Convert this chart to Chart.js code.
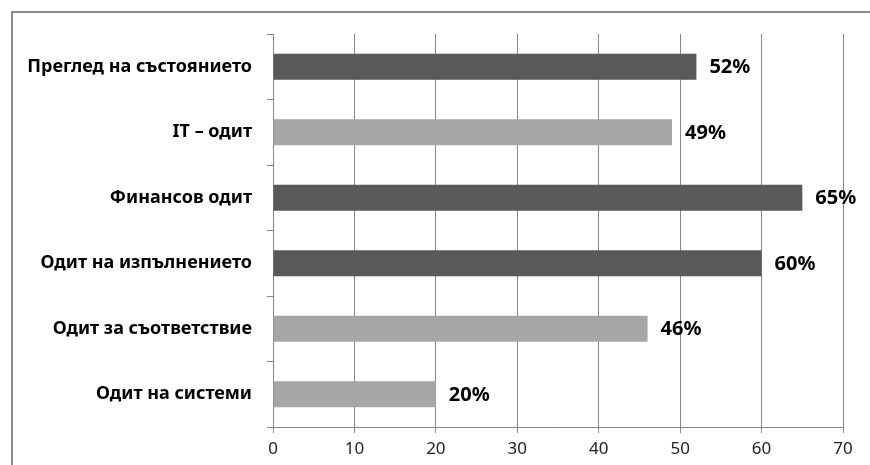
<!DOCTYPE html>
<html>
<head>
<meta charset="utf-8">
<script src="https://cdn.jsdelivr.net/npm/chart.js@4"></script>
<style>
  html, body { margin: 0; padding: 0; background: #fff; }
  #wrap { position: relative; width: 870px; height: 465px; }
  #frame { position: absolute; left: 11px; top: 11px; right: 0; bottom: 0; border-left: 2px solid #8c8c8c; border-top: 2px solid #8c8c8c; }
  canvas { position: absolute; left: 0; top: 0; }
</style>
</head>
<body>
<div id="wrap">
  <div id="frame"></div>
  <canvas id="myChart" width="870" height="465"></canvas>
</div>
<script>
const categories = ['Преглед на състоянието', 'IT – одит', 'Финансов одит', 'Одит на изпълнението', 'Одит за съответствие', 'Одит на системи']
const values = [52, 49, 65, 60, 46, 20]
const barColors = ['#595959', '#a6a6a6', '#595959', '#595959', '#a6a6a6', '#a6a6a6']
const xTicks = [0, 10, 20, 30, 40, 50, 60, 70]

// percent labels right of each bar
const valueLabels = {
    id: 'valueLabels',
    afterDatasetsDraw(chart) {
        const ctx = chart.ctx
        const meta = chart.getDatasetMeta(0)
        ctx.save()
        ctx.font = 'bold 20px "Noto Sans"'
        ctx.fillStyle = '#000'
        ctx.textBaseline = 'middle'
        ctx.textAlign = 'left'
        meta.data.forEach((bar, i) => {
            ctx.fillText(values[i] + '%', bar.x + 13, bar.y + 1)
        })
        ctx.restore()
    }
}

let myChart = document.getElementById('myChart').getContext('2d')
new Chart(myChart, {
    type: 'bar',
    data: {
        labels: categories,
        datasets: [{
            data: values,
            backgroundColor: barColors,
            barPercentage: 0.4,
            categoryPercentage: 1
        }]
    },
    options: {
        indexAxis: 'y',
        responsive: false,
        animation: false,
        layout: { padding: { top: 34, right: 27, left: 0, bottom: 0 } },
        plugins: {
            legend: { display: false },
            tooltip: { enabled: false }
        },
        scales: {
            x: {
                min: 0,
                max: 70,
                afterBuildTicks: scale => { scale.ticks = xTicks.map(v => ({ value: v })) },
                grid: {
                    color: '#868686',
                    lineWidth: 1,
                    tickLength: 6
                },
                border: { color: '#868686' },
                ticks: {
                    color: '#222',
                    font: { family: 'Noto Sans', size: 17 },
                    padding: 6
                },
                afterFit: scale => { scale.height = 38 }
            },
            y: {
                grid: {
                    offset: true,
                    drawOnChartArea: false,
                    color: '#868686',
                    tickLength: 6
                },
                border: { color: '#868686' },
                ticks: {
                    color: '#000',
                    font: { family: 'Noto Sans', size: 18, weight: 'bold' },
                    padding: 15
                },
                afterFit: scale => { scale.width = 273 }
            }
        }
    },
    plugins: [valueLabels]
})
</script>
</body>
</html>
